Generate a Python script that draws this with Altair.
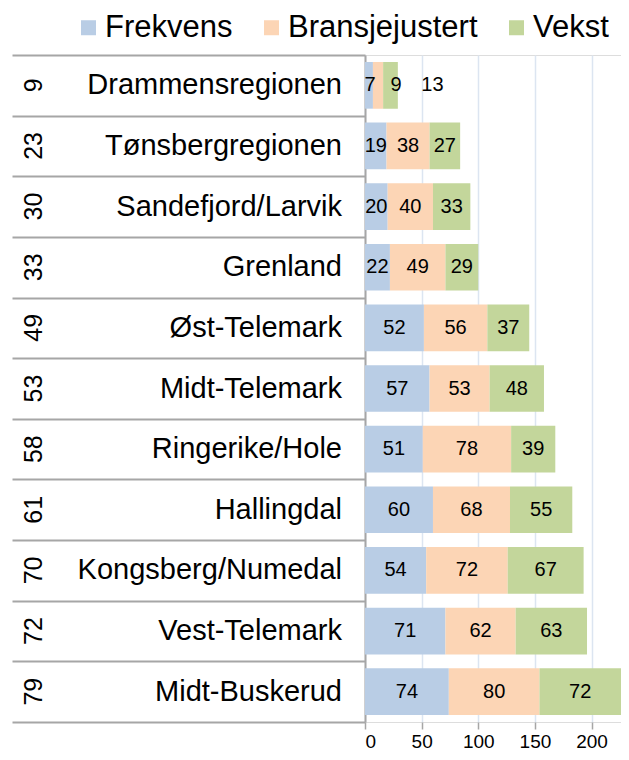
import altair as alt
import pandas as pd

regions = ["Drammensregionen", "Tønsbergregionen", "Sandefjord/Larvik", "Grenland",
           "Øst-Telemark", "Midt-Telemark", "Ringerike/Hole", "Hallingdal",
           "Kongsberg/Numedal", "Vest-Telemark", "Midt-Buskerud"]
ranks = [9, 23, 30, 33, 49, 53, 58, 61, 70, 72, 79]
frekvens = [7, 19, 20, 22, 52, 57, 51, 60, 54, 71, 74]
bransje = [9, 38, 40, 49, 56, 53, 78, 68, 72, 62, 80]
vekst = [13, 27, 33, 29, 37, 48, 39, 55, 67, 63, 72]
series = ["Frekvens", "Bransjejustert", "Vekst"]
colors = ["#B9CDE5", "#FCD5B5", "#C3D69B"]
x_ticks = [0, 50, 100, 150, 200]

rows = []
for i, r in enumerate(regions):
    for k, (s, vals) in enumerate(zip(series, [frekvens, bransje, vekst])):
        rows.append({"region": r, "rank": ranks[i], "series": s, "order": k, "value": vals[i]})
df = pd.DataFrame(rows)
reg_df = pd.DataFrame({"region": regions, "rank": [str(v) for v in ranks]})

FONT = "Liberation Sans"
GRAY = "#A6A6A6"
y_enc = alt.Y("region:N", sort=regions,
              scale=alt.Scale(paddingInner=0, paddingOuter=0),
              axis=alt.Axis(labels=False, title=None, domainColor=GRAY, domainWidth=2,
                            ticks=True, tickBand="extent", tickSize=353, tickColor=GRAY,
                            tickWidth=2, grid=False))

base = alt.Chart(df).transform_stack(
    stack="value", groupby=["region"], as_=["x0", "x1"], sort=[alt.SortField("order")]
).transform_calculate(mid="(datum.x0 + datum.x1) / 2")

bars = base.mark_bar(height={"band": 0.77}).encode(
    x=alt.X("x0:Q", scale=alt.Scale(domain=[0, 226], nice=False),
            axis=alt.Axis(values=x_ticks, title=None, domain=False, tickColor=GRAY,
                          tickSize=7, tickWidth=1.5, grid=True, gridColor="#DCE5F1", gridWidth=1.5,
                          labelFontSize=19, labelFont=FONT, labelColor="#000", labelPadding=3)),
    x2="x1:Q",
    y=y_enc,
    color=alt.Color("series:N", sort=series,
                    scale=alt.Scale(domain=series, range=colors),
                    legend=alt.Legend(orient="none", legendX=-292, legendY=-43, direction="horizontal",
                                      title=None, symbolType="square", symbolSize=225,
                                      symbolStrokeWidth=0, labelFontSize=31, labelFont=FONT,
                                      labelColor="#000", labelOffset=1, columnPadding=23,
                                      labelLimit=400)),
)

lbl_main = base.mark_text(fontSize=20, font=FONT, color="#000", baseline="middle").encode(
    x="mid:Q", y=alt.Y("region:N", sort=regions), text="value:Q"
).transform_filter(alt.datum.region != regions[0])

first = []
for s, dx in zip(series, [1, 18, 42]):
    first.append(
        base.mark_text(fontSize=20, font=FONT, color="#000", baseline="middle", dx=dx).encode(
            x="mid:Q", y=alt.Y("region:N", sort=regions), text="value:Q"
        ).transform_filter((alt.datum.region == regions[0]) & (alt.datum.series == s))
    )

names = alt.Chart(reg_df).mark_text(fontSize=29, font=FONT, color="#000", align="right",
                                    baseline="middle").encode(
    x=alt.value(-23), y=alt.Y("region:N", sort=regions), text="region:N")

rank_txt = alt.Chart(reg_df).mark_text(fontSize=25, font=FONT, color="#000", align="center",
                                       baseline="middle", angle=270).encode(
    x=alt.value(-331), y=alt.Y("region:N", sort=regions), text="rank:N")

chart = alt.layer(bars, lbl_main, *first, names, rank_txt).properties(
    width=256, height=667,
    autosize=alt.AutoSizeParams(type="none"),
    padding={"left": 357, "top": 47, "right": 0, "bottom": 30},
).configure_view(stroke=None).configure(background="white")

chart.save("out.html", embed_options={"renderer": "svg", "actions": False})
